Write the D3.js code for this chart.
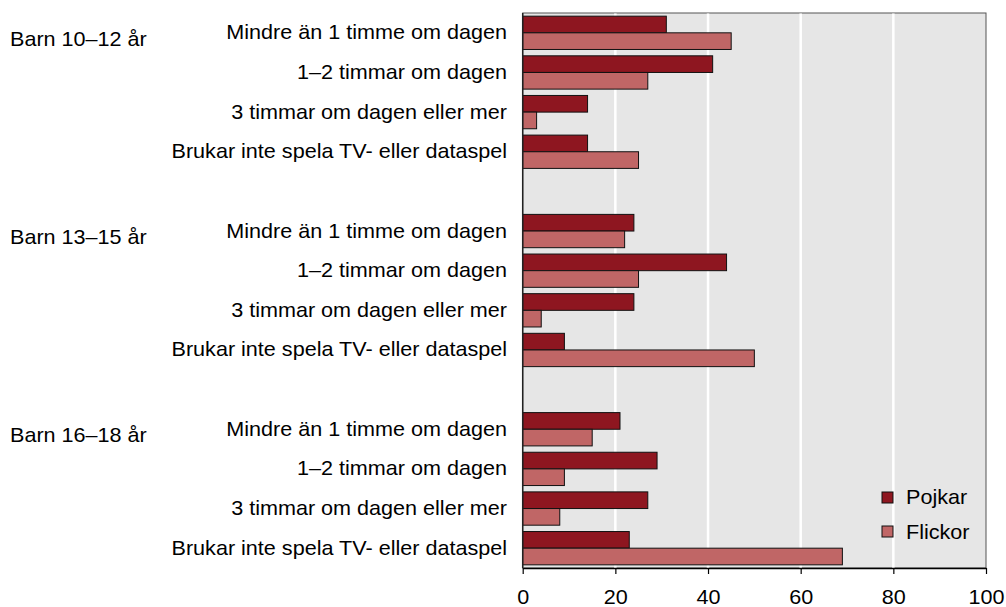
<!DOCTYPE html>
<html><head><meta charset="utf-8">
<script src="https://cdn.jsdelivr.net/npm/d3@7"></script>
<style>body{margin:0;background:#fff}svg{display:block}text{font-family:"Liberation Sans",Arial,sans-serif;fill:#000}</style>
</head><body><svg id="c" width="1006" height="607"></svg>
<script>
const groups = ["Barn 10–12 år", "Barn 13–15 år", "Barn 16–18 år"];
const categories = ["Mindre än 1 timme om dagen", "1–2 timmar om dagen", "3 timmar om dagen eller mer", "Brukar inte spela TV- eller dataspel"];
const seriesNames = ["Pojkar", "Flickor"];
const pojkar = [[31, 41, 14, 14], [24, 44, 24, 9], [21, 29, 27, 23]];
const flickor = [[45, 27, 3, 25], [22, 25, 4, 50], [15, 9, 8, 69]];
const xTicks = [0, 20, 40, 60, 80, 100];
const colors = ["#8E1620", "#C06666"];

const svg = d3.select("#c");
const L = 522.7, R = 986, T = 13, B = 568;
const FS = "20px", SX = 1.08;

const slots = [];
groups.forEach((g, gi) => {
  categories.forEach((c, ci) => slots.push(gi + "|" + ci));
  if (gi < groups.length - 1) slots.push("gap" + gi);
});
const y = d3.scaleBand().domain(slots).range([T, B]).paddingInner(0.16).paddingOuter(0.08);
const ys = d3.scaleBand().domain(seriesNames).range([0, y.bandwidth()]);
const x = d3.scaleLinear().domain([0, 100]).range([L, R]);

svg.append("rect").attr("x", L).attr("y", T).attr("width", R - L).attr("height", B - T)
  .attr("fill", "#E6E6E6").attr("stroke", "#555").attr("stroke-width", 1);

svg.append("g").selectAll("line").data(xTicks.filter(t => t > 0 && t < 100)).join("line")
  .attr("x1", d => x(d)).attr("x2", d => x(d)).attr("y1", T + 0.5).attr("y2", B)
  .attr("stroke", "#fff").attr("stroke-width", 2.5);

const data = [];
groups.forEach((g, gi) => categories.forEach((c, ci) => {
  data.push({ key: gi + "|" + ci, s: "Pojkar", v: pojkar[gi][ci], col: colors[0] });
  data.push({ key: gi + "|" + ci, s: "Flickor", v: flickor[gi][ci], col: colors[1] });
}));
svg.append("g").selectAll("rect").data(data).join("rect")
  .attr("x", x(0)).attr("y", d => y(d.key) + ys(d.s))
  .attr("width", d => x(d.v) - x(0)).attr("height", ys.bandwidth())
  .attr("fill", d => d.col).attr("stroke", "#111").attr("stroke-width", 1);

// axes
const xAxis = d3.axisBottom(x).tickValues(xTicks).tickSize(6).tickPadding(9).tickSizeOuter(0);
const gx = svg.append("g").attr("transform", `translate(0,${B})`).call(xAxis);
gx.select(".domain").attr("stroke", "#000").attr("stroke-width", 1.5);
gx.selectAll(".tick line").attr("stroke", "#000").attr("stroke-width", 1.2);
gx.selectAll(".tick text").style("font-size", FS).attr("fill", "#000")
  .style("font-family", '"Liberation Sans",Arial,sans-serif')
  .attr("y", 0).attr("dy", null).attr("transform", `translate(0,36.3) scale(${SX},1)`);

svg.append("line").attr("x1", L).attr("x2", L).attr("y1", T).attr("y2", B)
  .attr("stroke", "#222").attr("stroke-width", 1.5);

// row labels
svg.append("g").selectAll("text").data(slots.filter(s => !s.startsWith("gap"))).join("text")
  .attr("transform", d => `translate(507,${y(d) + y.bandwidth() / 2 + 6.5}) scale(${SX},1)`)
  .attr("text-anchor", "end").style("font-size", FS)
  .text(d => categories[+d.split("|")[1]]);

// group labels
svg.append("g").selectAll("text").data(groups).join("text")
  .attr("transform", (d, i) => `translate(10,${y(i + "|0") + y.bandwidth() / 2 + 13}) scale(${SX},1)`)
  .style("font-size", FS).text(d => d);

// legend
const lg = svg.append("g");
seriesNames.forEach((s, i) => {
  lg.append("rect").attr("x", 882).attr("y", 492 + i * 34).attr("width", 11).attr("height", 11)
    .attr("fill", colors[i]).attr("stroke", "#111").attr("stroke-width", 1);
  lg.append("text").attr("transform", `translate(906,${504 + i * 35}) scale(${SX},1)`)
    .style("font-size", FS).text(s);
});
</script></body></html>
